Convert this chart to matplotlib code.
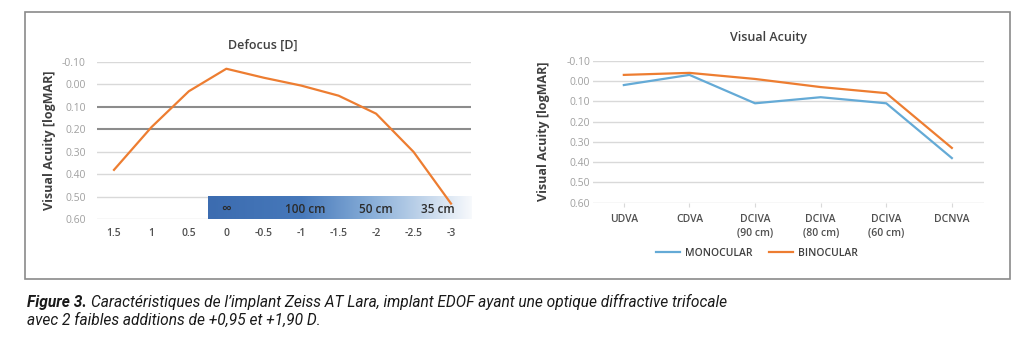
import numpy as np
import matplotlib
matplotlib.use("Agg")
import matplotlib.pyplot as plt
from matplotlib.colors import LinearSegmentedColormap
from matplotlib.patches import Rectangle

plt.rcParams['font.family'] = ['Open Sans', 'DejaVu Sans']

# --- donnees : courbe de defocus ---
defocus_x = [1.5, 1, 0.5, 0, -0.5, -1, -1.5, -2, -2.5, -3]
defocus_va = [0.38, 0.19, 0.03, -0.07, -0.03, 0.005, 0.05, 0.13, 0.30, 0.53]
defocus_ticks = [1.5, 1, 0.5, 0, -0.5, -1, -1.5, -2, -2.5, -3]
defocus_ticklabels = ["1.5", "1", "0.5", "0", "-0.5", "-1", "-1.5", "-2", "-2.5", "-3"]
distance_pos = [0, -1.05, -2, -2.83]
distance_labels = ["∞", "100 cm", "50 cm", "35 cm"]

# --- donnees : acuite visuelle ---
categories = ["UDVA", "CDVA", "DCIVA\n(90 cm)", "DCIVA\n(80 cm)", "DCIVA\n(60 cm)", "DCNVA"]
monocular = [0.02, -0.03, 0.11, 0.08, 0.11, 0.38]
binocular = [-0.03, -0.04, -0.01, 0.03, 0.06, 0.33]

yticks = [-0.10, 0.00, 0.10, 0.20, 0.30, 0.40, 0.50, 0.60]

ORANGE = '#ED7D31'
BLUE = '#64AAD6'
LIGHT_GRID = '#d9d9d9'
DARK_GRID = '#8c8c8c'

fig = plt.figure(figsize=(10.24, 3.63), dpi=100)

# cadre autour des deux graphiques
fig.patches.append(Rectangle((25 / 1024, 1 - 279 / 363), 985 / 1024, 267 / 363,
                             transform=fig.transFigure, fill=False,
                             edgecolor='#8a8a8a', lw=1.2))


def style_axes(ax):
    for s in ax.spines.values():
        s.set_visible(False)
    ax.set_ylim(0.60, -0.10)
    ax.set_yticks(yticks)
    ax.set_yticklabels([f"{v:.2f}" for v in yticks])
    ax.tick_params(axis='y', length=0, labelsize=7.5, labelcolor='#a0a0a0')
    ax.set_ylabel("Visual Acuity [logMAR]", fontsize=9, fontweight='bold', color='#404040')


# ---------- graphique de gauche ----------
ax1 = fig.add_axes([97 / 1024, 1 - 219.3 / 363, 374 / 1024, 157.3 / 363])
style_axes(ax1)
for v in yticks:
    if v in (0.10, 0.20):
        ax1.axhline(v, color=DARK_GRID, lw=1.5, zorder=1)
    else:
        ax1.axhline(v, color=LIGHT_GRID, lw=1.0, zorder=1)

xl = (1.727, -3.267)
cmap = LinearSegmentedColormap.from_list(
    'bande', [(0, '#3c6cb0'), (0.35, '#4678ba'), (0.62, '#88aed8'), (1.0, '#f7f9fc')])
grad = np.linspace(0, 1, 256).reshape(1, -1)
ax1.imshow(grad, cmap=cmap, extent=[0.25, xl[1], 0.60, 0.50], aspect='auto', zorder=2)
for xp, lab in zip(distance_pos, distance_labels):
    ax1.text(xp, 0.555, lab, ha='center', va='center', fontsize=8.5 if lab != "∞" else 10,
             color='#2b2b2b', zorder=3, fontweight='semibold')

ax1.plot(defocus_x, defocus_va, color=ORANGE, lw=1.6, zorder=4)
ax1.set_xlim(*xl)
ax1.set_ylim(0.60, -0.10)
ax1.set_xticks(defocus_ticks)
ax1.set_xticklabels(defocus_ticklabels, fontweight='semibold')
ax1.tick_params(axis='x', length=0, pad=6, labelsize=7.5, labelcolor='#505050')
ax1.tick_params(axis='y', pad=8)
ax1.yaxis.set_label_coords(-0.11, 0.5)
fig.text(263 / 1024, 1 - 45 / 363, "Defocus [D]", ha='center', va='center',
         fontsize=9, fontweight='semibold', color='#404040')

# ---------- graphique de droite ----------
ax2 = fig.add_axes([593 / 1024, 1 - 202.7 / 363, 391 / 1024, 142 / 363])
style_axes(ax2)
for v in yticks:
    ax2.axhline(v, color=LIGHT_GRID, lw=1.0, zorder=1)
xpos = np.arange(len(categories))
l_mono, = ax2.plot(xpos, monocular, color=BLUE, lw=1.6, label="MONOCULAR", zorder=3)
l_bino, = ax2.plot(xpos, binocular, color=ORANGE, lw=1.6, label="BINOCULAR", zorder=3)
ax2.set_xlim(-0.47, 5.49)
ax2.set_ylim(0.60, -0.10)
ax2.set_xticks(xpos)
ax2.set_xticklabels(categories, linespacing=1.45, fontweight='semibold')
ax2.tick_params(axis='x', length=3, color=LIGHT_GRID, pad=5, labelsize=7.5, labelcolor='#505050')
ax2.tick_params(axis='y', pad=2)
ax2.yaxis.set_label_coords(-0.11, 0.5)
fig.text(768 / 1024, 1 - 37 / 363, "Visual Acuity", ha='center', va='center',
         fontsize=9, fontweight='semibold', color='#404040')
leg = fig.legend(handles=[l_mono, l_bino], loc='center', bbox_to_anchor=(757 / 1024, 1 - 253 / 363),
                 ncol=2, frameon=False, fontsize=7.5, handlelength=2.3, handletextpad=0.5,
                 columnspacing=1.5, labelcolor='#404040')
for t in leg.get_texts():
    t.set_fontweight('semibold')

# ---------- legende de la figure ----------
cap_font = ['Roboto', 'DejaVu Sans']
cap_size = 11.2
t1 = fig.text(27 / 1024, 1 - 302 / 363, "Figure 3.", ha='left', va='center', fontsize=cap_size,
              fontstyle='italic', fontweight='bold', family=cap_font, color='#1a1a1a')
renderer = fig.canvas.get_renderer()
bb = t1.get_window_extent(renderer=renderer)
fig.text(bb.x1 / fig.bbox.width + 4 / 1024, 1 - 302 / 363,
         "Caractéristiques de l’implant Zeiss AT Lara, implant EDOF ayant une optique diffractive trifocale",
         ha='left', va='center', fontsize=cap_size, fontstyle='italic', family=cap_font, color='#1a1a1a')
fig.text(27 / 1024, 1 - 320 / 363, "avec 2 faibles additions de +0,95 et +1,90 D.",
         ha='left', va='center', fontsize=cap_size, fontstyle='italic', family=cap_font, color='#1a1a1a')

fig.savefig("out.png", dpi=100, facecolor='white')
